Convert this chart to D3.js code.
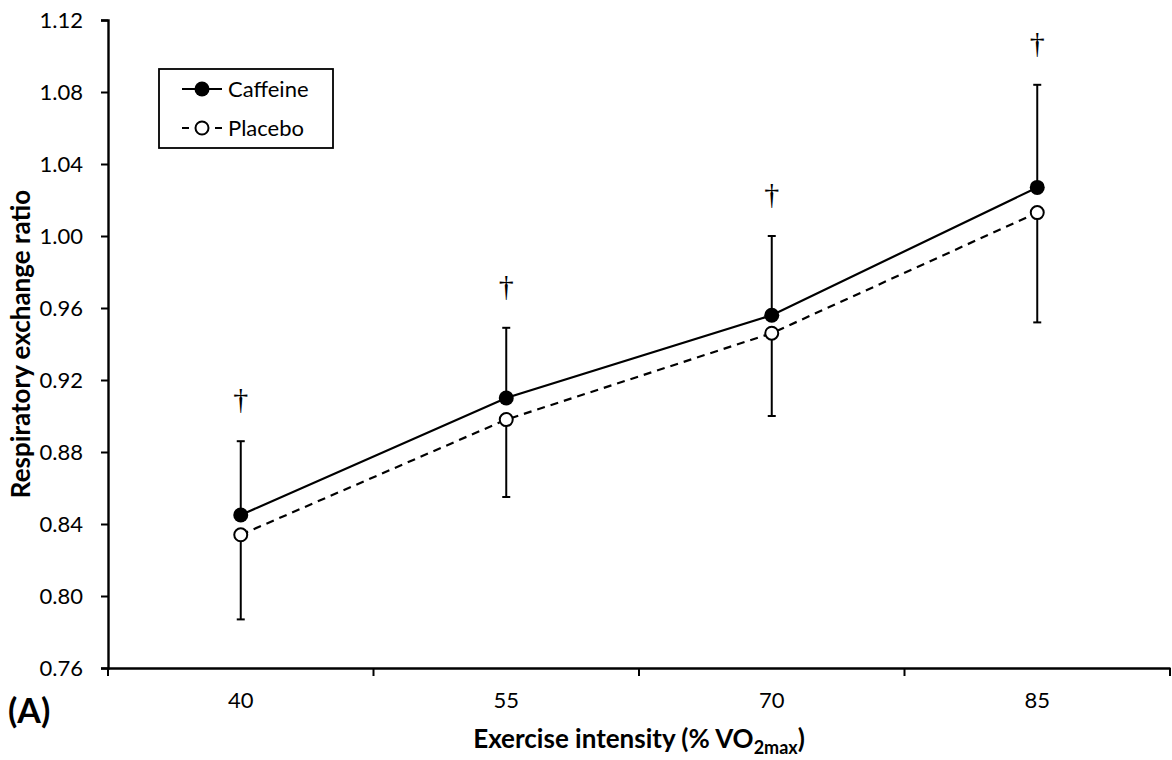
<!DOCTYPE html>
<html>
<head>
<meta charset="utf-8">
<script src="https://cdn.jsdelivr.net/npm/d3@7"></script>
<style>
  body { margin: 0; background: #fff; }
  svg { display: block; }
  .tick text { font-family: Lato, "Open Sans", sans-serif; }
</style>
</head>
<body>
<svg id="chart" width="1172" height="760"></svg>
<script>
// values
const intensities = ["40", "55", "70", "85"];
const caffeineMean = [0.845, 0.910, 0.956, 1.027];
const caffeineSD = [0.041, 0.039, 0.044, 0.057];
const placeboMean = [0.834, 0.898, 0.946, 1.013];
const placeboSD = [0.047, 0.043, 0.046, 0.061];
const marks = ["†", "†", "†", "†"];
const yTicks = [0.76, 0.80, 0.84, 0.88, 0.92, 0.96, 1.00, 1.04, 1.08, 1.12];

const width = 1172, height = 760;
const margin = {top: 20, right: 2, bottom: 92, left: 108};

const svg = d3.select("#chart");

const x = d3.scaleBand()
    .domain(intensities)
    .range([margin.left, width - margin.right]);

const y = d3.scaleLinear()
    .domain([0.76, 1.12])
    .range([height - margin.bottom, margin.top]);

const caffeine = intensities.map((k, i) => ({k, m: caffeineMean[i], sd: caffeineSD[i]}));
const placebo = intensities.map((k, i) => ({k, m: placeboMean[i], sd: placeboSD[i]}));
const cx = d => x(d.k) + x.bandwidth() / 2;

// y axis
const yAxis = svg.append("g")
    .attr("transform", `translate(${margin.left},0)`)
    .call(d3.axisLeft(y).tickValues(yTicks).tickFormat(d3.format(".2f")).tickSize(7).tickPadding(18));
yAxis.select(".domain").attr("stroke-width", 2.4);
yAxis.selectAll(".tick line").attr("stroke-width", 2);
yAxis.selectAll(".tick text").attr("font-size", 22).attr("fill", "#000");

// x axis: labels centred, ticks on the category boundaries
const xAxis = svg.append("g")
    .attr("transform", `translate(0,${y(0.76)})`)
    .call(d3.axisBottom(x).tickSize(0).tickPadding(24));
xAxis.select(".domain").attr("stroke-width", 2.4);
xAxis.selectAll(".tick text").attr("font-size", 22).attr("fill", "#000");
const edges = intensities.map(k => x(k) + x.bandwidth()).concat([x(intensities[0])]);
xAxis.selectAll("line.edge")
    .data(edges)
    .enter()
    .append("line")
    .attr("class", "edge")
    .attr("x1", d => d).attr("x2", d => d)
    .attr("y1", 0).attr("y2", 8)
    .attr("stroke", "#000")
    .attr("stroke-width", 2);

// lines
const line = d3.line().x(cx).y(d => y(d.m));
svg.append("path")
    .datum(placebo)
    .attr("d", line)
    .attr("fill", "none")
    .attr("stroke", "#000")
    .attr("stroke-width", 2.2)
    .attr("stroke-dasharray", "8,6");
svg.append("path")
    .datum(caffeine)
    .attr("d", line)
    .attr("fill", "none")
    .attr("stroke", "#000")
    .attr("stroke-width", 2.2);

// error bars: caffeine up, placebo down
const errorBars = (data, dir) => {
    const g = svg.append("g").attr("stroke", "#000").attr("stroke-width", 2);
    g.selectAll("line.bar")
        .data(data)
        .enter()
        .append("line")
        .attr("x1", cx).attr("x2", cx)
        .attr("y1", d => y(d.m))
        .attr("y2", d => y(d.m + dir * d.sd));
    g.selectAll("line.cap")
        .data(data)
        .enter()
        .append("line")
        .attr("x1", d => cx(d) - 4).attr("x2", d => cx(d) + 4)
        .attr("y1", d => y(d.m + dir * d.sd))
        .attr("y2", d => y(d.m + dir * d.sd));
};
errorBars(caffeine, 1);
errorBars(placebo, -1);

// markers
svg.selectAll("circle.placebo")
    .data(placebo)
    .enter()
    .append("circle")
    .attr("cx", cx).attr("cy", d => y(d.m))
    .attr("r", 6.5)
    .style("fill", "#fff")
    .style("stroke", "#000")
    .style("stroke-width", 2);
svg.selectAll("circle.caffeine")
    .data(caffeine)
    .enter()
    .append("circle")
    .attr("cx", cx).attr("cy", d => y(d.m))
    .attr("r", 7.5)
    .style("fill", "#000");

// significance daggers above the caffeine bars
svg.selectAll("text.sig")
    .data(caffeine)
    .enter()
    .append("text")
    .attr("x", cx)
    .attr("y", d => y(d.m + d.sd) - 32)
    .attr("text-anchor", "middle")
    .attr("font-family", "'Liberation Serif', 'DejaVu Serif', serif")
    .attr("font-size", 30)
    .attr("fill", "#000")
    .text((d, i) => marks[i]);

// axis titles
svg.append("text")
    .attr("transform", `translate(30,${(y(0.76) + y(1.12)) / 2}) rotate(-90)`)
    .attr("text-anchor", "middle")
    .attr("font-family", "Lato, sans-serif")
    .attr("font-weight", "bold")
    .attr("font-size", 26)
    .text("Respiratory exchange ratio");

const xt = svg.append("text")
    .attr("x", (margin.left + width - margin.right) / 2)
    .attr("y", 748)
    .attr("text-anchor", "middle")
    .attr("font-family", "Lato, sans-serif")
    .attr("font-weight", "bold")
    .attr("font-size", 26);
xt.append("tspan").text("Exercise intensity (% VO");
xt.append("tspan").attr("font-size", 18).attr("dy", 6).text("2max");
xt.append("tspan").attr("dy", -6).text(")");

svg.append("text")
    .attr("x", 8)
    .attr("y", 723)
    .attr("font-family", "Lato, sans-serif")
    .attr("font-weight", "bold")
    .attr("font-size", 34)
    .text("(A)");

// legend
const legend = svg.append("g").attr("transform", "translate(159,69)");
legend.append("rect")
    .attr("width", 174).attr("height", 79)
    .attr("fill", "#fff").attr("stroke", "#000").attr("stroke-width", 1.8);
const items = [
    {name: "Caffeine", dash: null, fill: "#000", ly: 20},
    {name: "Placebo", dash: "7,26", fill: "#fff", ly: 59}
];
items.forEach(it => {
    legend.append("line")
        .attr("x1", 23).attr("x2", 63)
        .attr("y1", it.ly).attr("y2", it.ly)
        .attr("stroke", "#000").attr("stroke-width", 2.2)
        .attr("stroke-dasharray", it.dash);
    legend.append("circle")
        .attr("cx", 43).attr("cy", it.ly)
        .attr("r", it.fill === "#000" ? 7.5 : 6.5)
        .style("fill", it.fill).style("stroke", "#000").style("stroke-width", it.fill === "#000" ? 0 : 2);
    legend.append("text")
        .attr("x", 69).attr("y", it.ly + 8)
        .attr("font-family", "Lato, sans-serif")
        .attr("font-size", 22)
        .text(it.name);
});
</script>
</body>
</html>
